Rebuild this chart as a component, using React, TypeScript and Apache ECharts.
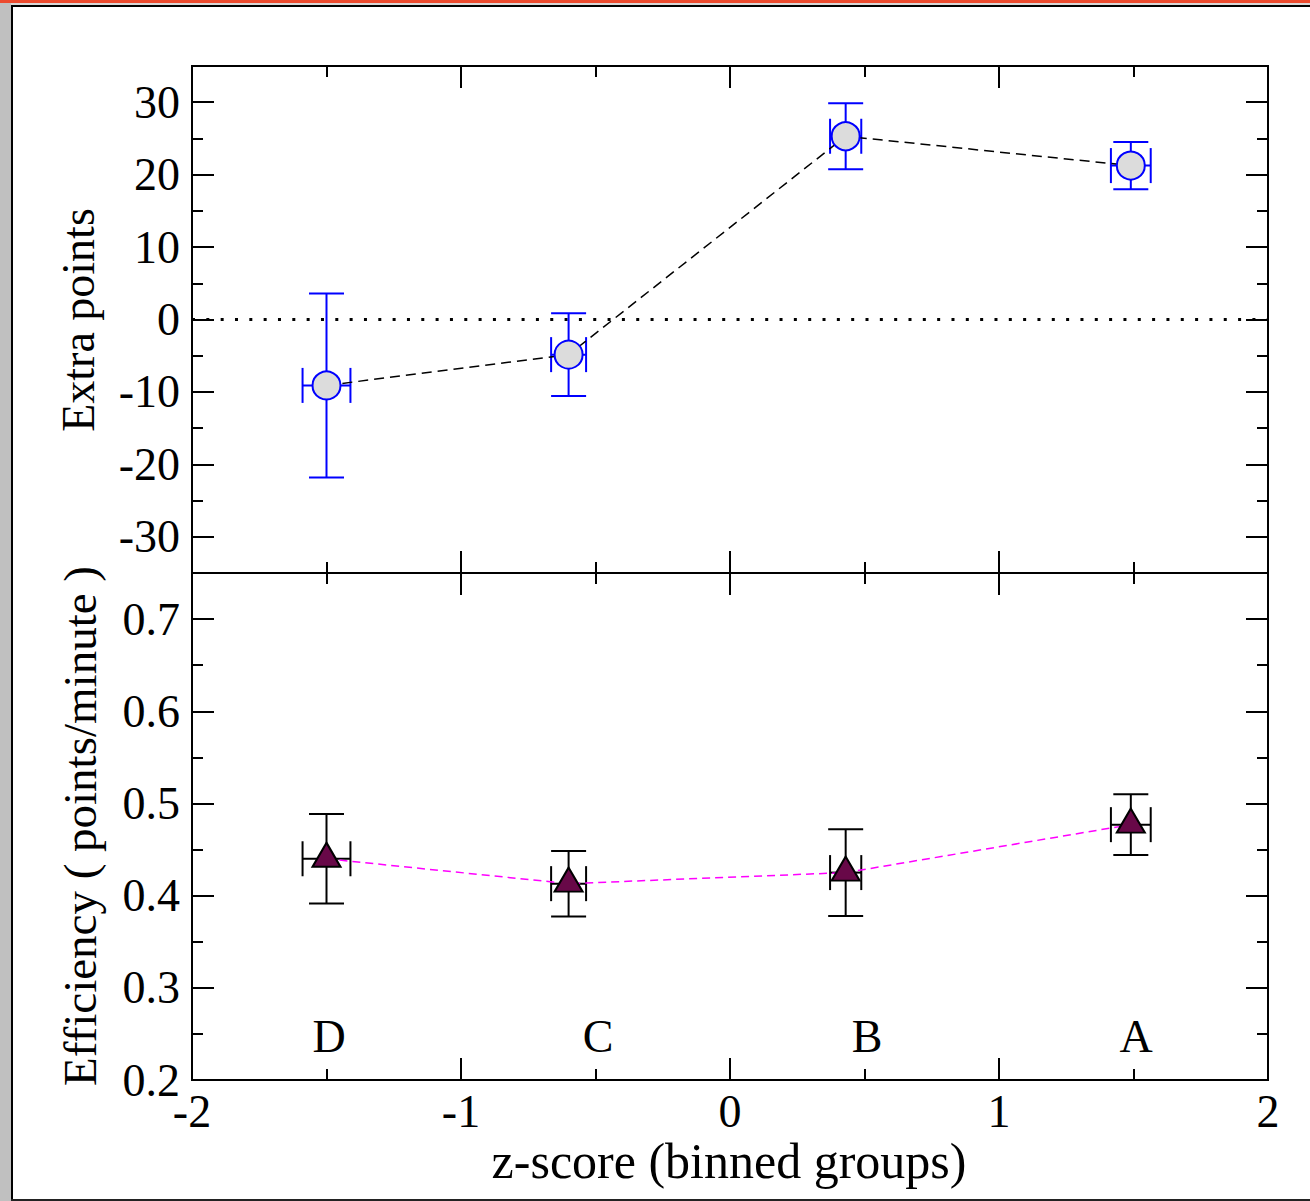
import React, { useEffect, useRef } from "react";
import * as echarts from "echarts";

const FONT = '"Liberation Serif", "Times New Roman", Times, serif';

// ---- data ----
const groups = ["D", "C", "B", "A"];
const zScore = [-1.5, -0.6, 0.43, 1.49];
const zErr = [0.089, 0.065, 0.058, 0.074];
const extraPoints = [-9.1, -4.85, 25.3, 21.25];
const extraErr = [12.7, 5.7, 4.55, 3.25];
const efficiency = [0.44, 0.413, 0.425, 0.477];
const efficiencyErr = [0.0486, 0.0355, 0.047, 0.033];
const groupLabelX = [-1.49, -0.49, 0.51, 1.51];
const groupLabelY = 0.247;

const xTicks = { min: -2, max: 2, interval: 1 };
const yTopMajor = [-30, -20, -10, 0, 10, 20, 30];
const yTopMinor = [-25, -15, -5, 5, 15, 25];
const yBotMajor = [0.2, 0.3, 0.4, 0.5, 0.6, 0.7];
const yBotMinor = [0.25, 0.35, 0.45, 0.55, 0.65, 0.75];

const tickStyle = { color: "#000", width: 2 };

function xAxisDef(gridIndex: number, position: string, labels: boolean) {
  return {
    type: "value",
    gridIndex,
    position,
    min: xTicks.min,
    max: xTicks.max,
    interval: xTicks.interval,
    axisLine: { show: false, onZero: false },
    axisTick: { show: true, inside: true, length: 22, lineStyle: tickStyle },
    minorTick: { show: true, splitNumber: 2, length: 11, lineStyle: tickStyle },
    splitLine: { show: false },
    minorSplitLine: { show: false },
    axisLabel: {
      show: labels,
      margin: 8,
      fontSize: 46,
      fontFamily: FONT,
      color: "#000",
    },
  };
}

function yAxisDef(
  gridIndex: number,
  position: string,
  min: number,
  max: number,
  values: number[],
  length: number,
  labels: boolean,
  fmt?: (v: number) => string
) {
  return {
    type: "value",
    gridIndex,
    position,
    min,
    max,
    axisLine: { show: false, onZero: false },
    axisTick: { show: true, inside: true, length, lineStyle: tickStyle, customValues: values },
    splitLine: { show: false },
    axisLabel: {
      show: labels,
      customValues: values,
      margin: 12,
      fontSize: 46,
      fontFamily: FONT,
      color: "#000",
      formatter: fmt ? (v: number) => fmt(v) : undefined,
    },
  };
}

function errorBars(color: string) {
  return (params: any, api: any) => {
    const x = api.value(0);
    const y = api.value(1);
    const xe = api.value(2);
    const ye = api.value(3);
    const top = api.coord([x, y + ye]);
    const bot = api.coord([x, y - ye]);
    const l = api.coord([x - xe, y]);
    const r = api.coord([x + xe, y]);
    const cap = 17.5;
    const style = { stroke: color, lineWidth: 2, fill: "none" };
    const ln = (x1: number, y1: number, x2: number, y2: number) => ({
      type: "line",
      shape: { x1, y1, x2, y2 },
      style,
    });
    return {
      type: "group",
      children: [
        ln(top[0], top[1], bot[0], bot[1]),
        ln(top[0] - cap, top[1], top[0] + cap, top[1]),
        ln(bot[0] - cap, bot[1], bot[0] + cap, bot[1]),
        ln(l[0], l[1], r[0], r[1]),
        ln(l[0], l[1] - cap, l[0], l[1] + cap),
        ln(r[0], r[1] - cap, r[0], r[1] + cap),
      ],
    };
  };
}

export default function App() {
  const ref = useRef<HTMLDivElement>(null);
  useEffect(() => {
    if (!ref.current) return;
    const chart = echarts.init(ref.current, undefined, { renderer: "svg" });

    const topErr = zScore.map((x, i) => [x, extraPoints[i], zErr[i], extraErr[i]]);
    const botErr = zScore.map((x, i) => [x, efficiency[i], zErr[i], efficiencyErr[i]]);

    const option: any = {
      animation: false,
      backgroundColor: "#fff",
      grid: [
        { left: 192, top: 66, width: 1076, height: 507, show: true, borderColor: "#000", borderWidth: 2, backgroundColor: "#fff" },
        { left: 192, top: 573, width: 1076, height: 507, show: true, borderColor: "#000", borderWidth: 2, backgroundColor: "#fff" },
      ],
      xAxis: [
        xAxisDef(0, "bottom", false),
        xAxisDef(0, "top", false),
        xAxisDef(1, "bottom", true),
        xAxisDef(1, "top", false),
      ],
      yAxis: [
        yAxisDef(0, "left", -35, 35, yTopMajor, 22, true, (v) => String(v)),
        yAxisDef(0, "left", -35, 35, yTopMinor, 11, false),
        yAxisDef(0, "right", -35, 35, yTopMajor, 22, false),
        yAxisDef(0, "right", -35, 35, yTopMinor, 11, false),
        yAxisDef(1, "left", 0.2, 0.75, yBotMajor, 22, true, (v) => v.toFixed(1)),
        yAxisDef(1, "left", 0.2, 0.75, yBotMinor, 11, false),
        yAxisDef(1, "right", 0.2, 0.75, yBotMajor, 22, false),
        yAxisDef(1, "right", 0.2, 0.75, yBotMinor, 11, false),
      ],
      graphic: [
        { type: "rect", shape: { x: 0, y: 0, width: 1310, height: 3 }, style: { fill: "#ec4a2e" }, z: 0 },
        { type: "rect", shape: { x: 0, y: 3, width: 1310, height: 2 }, style: { fill: "#d8d8d8" }, z: 0 },
        { type: "rect", shape: { x: 0, y: 3, width: 11, height: 1198 }, style: { fill: "#c0c0c0" }, z: 0 },
        { type: "rect", shape: { x: 11, y: 5, width: 1299, height: 2 }, style: { fill: "#000" }, z: 0 },
        { type: "rect", shape: { x: 11, y: 5, width: 2, height: 1196 }, style: { fill: "#000" }, z: 0 },
        { type: "rect", shape: { x: 11, y: 1199, width: 1299, height: 2 }, style: { fill: "#222" }, z: 0 },
        {
          type: "text",
          x: 78,
          y: 320,
          rotation: Math.PI / 2,
          style: { text: "Extra points", font: `46px ${FONT}`, fill: "#000", align: "center", verticalAlign: "middle" },
        },
        {
          type: "text",
          x: 80,
          y: 826,
          rotation: Math.PI / 2,
          style: { text: "Efficiency ( points/minute )", font: `47px ${FONT}`, fill: "#000", align: "center", verticalAlign: "middle" },
        },
        {
          type: "text",
          x: 729,
          y: 1161,
          style: { text: "z-score (binned groups)", font: `50px ${FONT}`, fill: "#000", align: "center", verticalAlign: "middle" },
        },
      ],
      series: [
        {
          type: "line",
          xAxisIndex: 0,
          yAxisIndex: 0,
          data: [
            [xTicks.min, 0],
            [xTicks.max, 0],
          ],
          symbol: "none",
          lineStyle: { color: "#000", width: 3, type: [3, 11.33], cap: "butt" },
          z: 1,
          silent: true,
        },
        {
          type: "custom",
          xAxisIndex: 0,
          yAxisIndex: 0,
          data: topErr,
          renderItem: errorBars("#0000ff"),
          z: 2,
          silent: true,
        },
        {
          type: "line",
          xAxisIndex: 0,
          yAxisIndex: 0,
          data: zScore.map((x, i) => [x, extraPoints[i]]),
          symbol: "circle",
          symbolSize: 28,
          showAllSymbol: true,
          itemStyle: { color: "#dcdcdc", borderColor: "#0000ff", borderWidth: 2 },
          lineStyle: { color: "#000", width: 1.5, type: [10, 6] },
          z: 3,
        },
        {
          type: "custom",
          xAxisIndex: 2,
          yAxisIndex: 4,
          data: botErr,
          renderItem: errorBars("#000"),
          z: 2,
          silent: true,
        },
        {
          type: "line",
          xAxisIndex: 2,
          yAxisIndex: 4,
          data: zScore.map((x, i) => [x, efficiency[i]]),
          symbol: "triangle",
          symbolSize: [28, 24],
          symbolOffset: [0, -4],
          showAllSymbol: true,
          itemStyle: { color: "#680848", borderColor: "#000", borderWidth: 2 },
          lineStyle: { color: "#ff00ff", width: 1.5, type: [8, 5] },
          z: 3,
        },
        {
          type: "custom",
          xAxisIndex: 2,
          yAxisIndex: 4,
          data: groups.map((g, i) => [groupLabelX[i], groupLabelY, i]),
          renderItem: (params: any, api: any) => {
            const p = api.coord([api.value(0), api.value(1)]);
            return {
              type: "text",
              x: p[0],
              y: p[1],
              style: {
                text: groups[api.value(2)],
                font: `46px ${FONT}`,
                fill: "#000",
                align: "center",
                verticalAlign: "middle",
              },
            };
          },
          z: 4,
          silent: true,
        },
      ],
    };
    chart.setOption(option);
    return () => chart.dispose();
  }, []);
  return (
    <div
      ref={ref}
      style={{ position: "absolute", left: 0, top: 0, width: 1310, height: 1201 }}
    />
  );
}
